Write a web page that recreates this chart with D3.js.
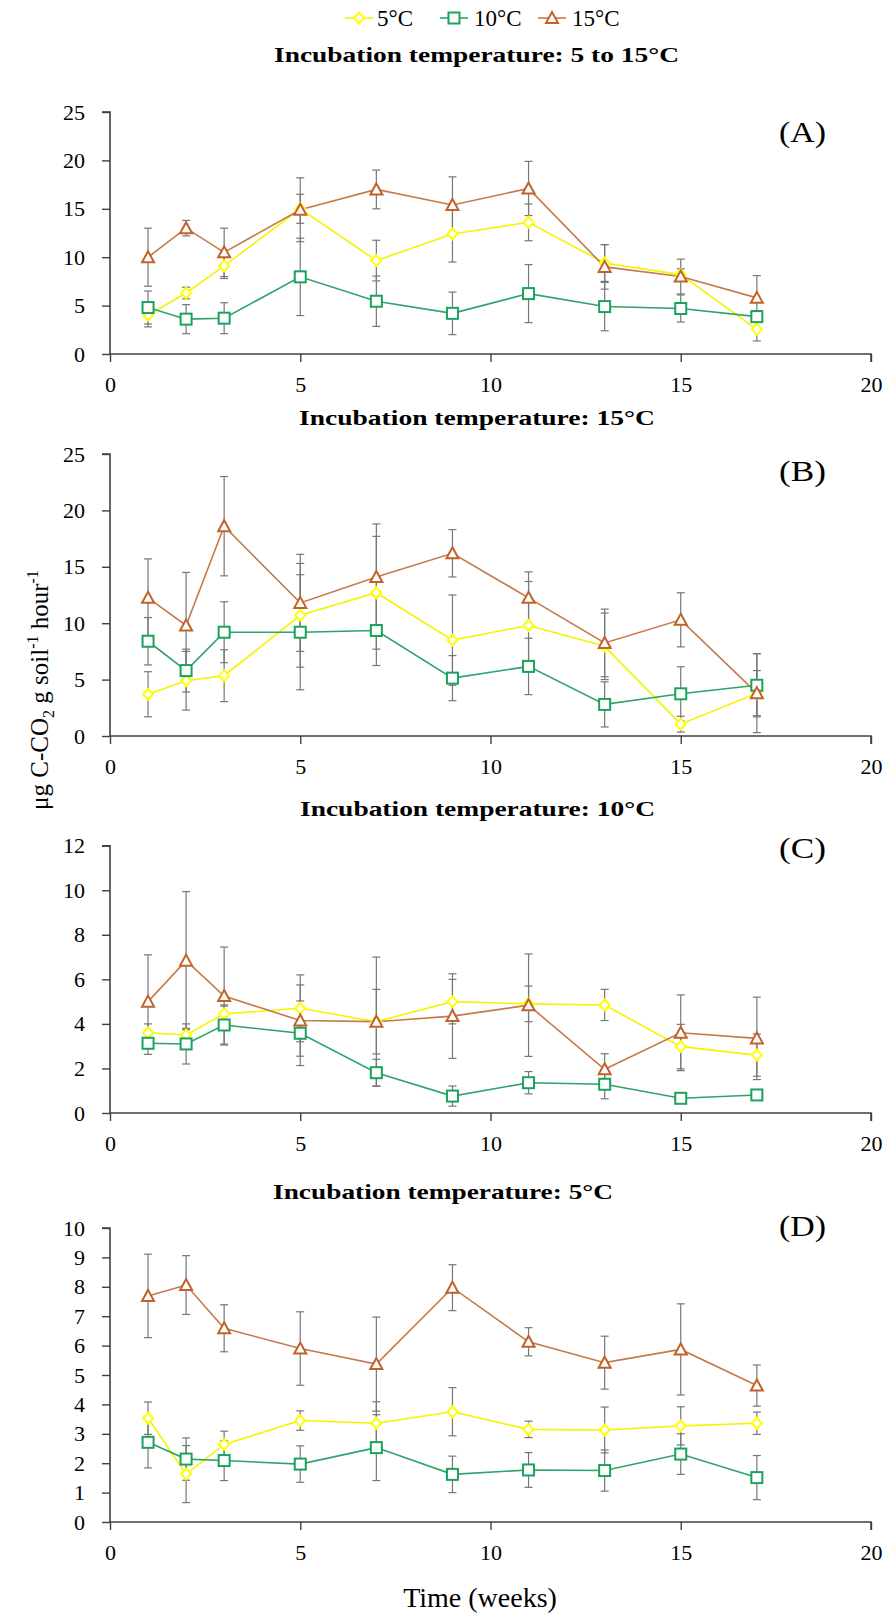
<!DOCTYPE html>
<html><head><meta charset="utf-8">
<script src="https://cdn.jsdelivr.net/npm/d3@7"></script>
<style>body{margin:0;background:#fff}svg{display:block}text{font-family:"Liberation Serif","Times New Roman",serif;fill:#000}</style>
</head><body>
<script>
const weeks = [1, 2, 3, 5, 7, 9, 11, 13, 15, 17];
const seriesNames = ["5°C", "10°C", "15°C"];
const panelTitles = ["Incubation temperature: 5 to 15°C", "Incubation temperature: 15°C", "Incubation temperature: 10°C", "Incubation temperature: 5°C"];
const panelLabels = ["(A)", "(B)", "(C)", "(D)"];
const yMaxes = [25, 25, 12, 10];
const yTickSteps = [5, 5, 2, 1];
const xTicks = [0, 5, 10, 15, 20];

// Panel A
const A_5 = [4.0, 6.3, 9.1, 15.0, 9.65, 12.4, 13.6, 9.4, 8.2, 2.55];
const A_5err = [1.2, 0.6, 1.3, 1.5, 2.1, 2.9, 1.9, 1.9, 0.6, 1.2];
const A_10 = [4.8, 3.6, 3.7, 7.97, 5.45, 4.2, 6.24, 4.9, 4.7, 3.86];
const A_10err = [1.7, 1.5, 1.6, 4.0, 2.6, 2.2, 3.0, 2.5, 1.4, 0.6];
const A_15 = [10.0, 13.0, 10.5, 14.9, 17.0, 15.4, 17.1, 9.0, 8.0, 5.8];
const A_15err = [3.0, 0.8, 2.5, 3.3, 2.0, 2.9, 2.8, 2.3, 1.8, 2.3];
// Panel B
const B_5 = [3.7, 4.9, 5.35, 10.7, 12.7, 8.5, 9.8, 7.95, 1.05, 3.8];
const B_5err = [2.0, 2.6, 2.3, 4.6, 5.0, 4.0, 3.9, 2.95, 0.7, 2.0];
const B_10 = [8.4, 5.8, 9.2, 9.2, 9.35, 5.13, 6.17, 2.8, 3.74, 4.5];
const B_10err = [2.1, 1.9, 2.7, 5.1, 3.1, 2.0, 2.5, 2.0, 2.4, 2.8];
const B_15 = [12.25, 9.8, 18.6, 11.8, 14.1, 16.2, 12.25, 8.25, 10.3, 3.8];
const B_15err = [3.45, 4.7, 4.4, 4.3, 4.7, 2.1, 2.3, 3.0, 2.4, 3.5];
// Panel C
const C_5 = [3.6, 3.5, 4.45, 4.7, 4.1, 5.0, 4.9, 4.85, 2.98, 2.6];
const C_5err = [0.4, 0.3, 0.4, 1.5, 1.45, 1.0, 0.8, 0.7, 1.0, 0.95];
const C_10 = [3.13, 3.1, 3.95, 3.58, 1.81, 0.76, 1.36, 1.29, 0.66, 0.81];
const C_10err = [0.5, 0.9, 0.85, 1.45, 0.6, 0.45, 0.5, 0.65, 0.1, 0.1];
const C_15 = [5.0, 6.84, 5.25, 4.15, 4.1, 4.35, 4.84, 1.96, 3.6, 3.35];
const C_15err = [2.1, 3.1, 2.2, 1.6, 2.9, 1.9, 2.3, 0.7, 1.7, 1.85];
// Panel D
const D_5 = [3.53, 1.63, 2.64, 3.45, 3.36, 3.75, 3.15, 3.13, 3.27, 3.36];
const D_5err = [0.55, 0.97, 0.45, 0.33, 0.73, 0.82, 0.28, 0.78, 0.65, 0.38];
const D_10 = [2.71, 2.14, 2.09, 1.97, 2.53, 1.62, 1.77, 1.75, 2.31, 1.51];
const D_10err = [0.87, 0.72, 0.68, 0.62, 1.12, 0.62, 0.59, 0.7, 0.69, 0.75];
const D_15 = [7.69, 8.06, 6.59, 5.9, 5.37, 7.97, 6.13, 5.42, 5.87, 4.64];
const D_15err = [1.42, 1.0, 0.8, 1.25, 1.6, 0.78, 0.48, 0.9, 1.55, 0.7];

const panels = [
  [[A_5, A_5err], [A_10, A_10err], [A_15, A_15err]],
  [[B_5, B_5err], [B_10, B_10err], [B_15, B_15err]],
  [[C_5, C_5err], [C_10, C_10err], [C_15, C_15err]],
  [[D_5, D_5err], [D_10, D_10err], [D_15, D_15err]]
];

// ---- layout / style ----
const W = 887, H = 1618;
const colors = ["#ffff00", "#1aa35c", "#c0622b"];
const lineColors = ["#f4f400", "#2ea36a", "#c47a4a"];
const shapes = ["diamond", "square", "triangle"];
const panelBox = [[112, 354], [454, 736], [845.7, 1113], [1228, 1522]];
const titleX = [274, 299, 300, 273];
const titleW = [405, 356, 355, 340];
const titleY = [62, 425, 816, 1199];
const labelY = [142, 481, 858, 1236];

const svg = d3.select("body").append("svg").attr("width", W).attr("height", H);
const x = d3.scaleLinear().domain([0, 20]).range([110, 871]);

function marker(g, shape, cx, cy, col) {
  if (shape === "diamond") {
    g.append("path").attr("d", `M${cx},${cy-5.5}L${cx+5},${cy}L${cx},${cy+5.5}L${cx-5},${cy}Z`)
      .attr("fill", "#fff").attr("stroke", col).attr("stroke-width", 2);
  } else if (shape === "square") {
    g.append("rect").attr("x", cx-5.5).attr("y", cy-5.5).attr("width", 11).attr("height", 11)
      .attr("fill", "#fff").attr("stroke", col).attr("stroke-width", 2);
  } else {
    g.append("path").attr("d", `M${cx},${cy-6}L${cx+6},${cy+5}L${cx-6},${cy+5}Z`)
      .attr("fill", "#fff").attr("stroke", col).attr("stroke-width", 2);
  }
}

panels.forEach((series, p) => {
  const [top, bot] = panelBox[p];
  const y = d3.scaleLinear().domain([0, yMaxes[p]]).range([bot, top]);
  const g = svg.append("g");
  const yTicks = d3.range(0, yMaxes[p] + 0.001, yTickSteps[p]);

  // axes
  const ya = g.append("g").attr("transform", "translate(110,0)")
    .call(d3.axisLeft(y).tickValues(yTicks).tickSize(8).tickPadding(17).tickFormat(d3.format("d")));
  const xa = g.append("g").attr("transform", `translate(0,${bot})`)
    .call(d3.axisBottom(x).tickValues(xTicks).tickSize(8).tickPadding(14).tickFormat(d3.format("d")));
  [ya, xa].forEach(a => {
    a.select(".domain").attr("stroke", "#404040").attr("stroke-width", 1.6);
    a.selectAll(".tick line").attr("stroke", "#404040").attr("stroke-width", 1.4);
    a.selectAll(".tick text").attr("font-size", 22).attr("fill", "#000")
      .style("font-family", '"Liberation Serif", serif');
  });
  ya.select(".domain").attr("d", `M-8,${top}H0V${bot}`);
  xa.select(".domain").attr("d", `M110,0H871V8`);

  // title
  g.append("text").attr("x", titleX[p]).attr("y", titleY[p]).attr("font-size", 21).attr("font-weight", "bold")
    .attr("textLength", titleW[p]).attr("lengthAdjust", "spacingAndGlyphs").text(panelTitles[p]);
  g.append("text").attr("x", 779).attr("y", labelY[p])
    .attr("font-size", 30).attr("textLength", 47).attr("lengthAdjust", "spacingAndGlyphs").text(panelLabels[p]);

  // error bars
  series.forEach(([vals, errs]) => {
    vals.forEach((v, i) => {
      const cx = x(weeks[i]);
      const y1 = y(v + errs[i]), y2 = y(Math.max(0, v - errs[i]));
      g.append("line").attr("x1", cx).attr("x2", cx).attr("y1", y1).attr("y2", y2)
        .attr("stroke", "#777").attr("stroke-width", 1.2);
      [y1, y2].forEach(yy => g.append("line").attr("x1", cx-4).attr("x2", cx+4).attr("y1", yy).attr("y2", yy)
        .attr("stroke", "#777").attr("stroke-width", 1.2));
    });
  });
  // lines + markers
  series.forEach(([vals], s) => {
    const line = d3.line().x((d, i) => x(weeks[i])).y(d => y(d));
    g.append("path").datum(vals).attr("d", line).attr("fill", "none")
      .attr("stroke", lineColors[s]).attr("stroke-width", 1.6);
  });
  series.forEach(([vals], s) => {
    vals.forEach((v, i) => marker(g, shapes[s], x(weeks[i]), y(v), colors[s]));
  });
});

// legend
const legX = [359, 454, 552];
const legTextX = [377, 474, 572];
seriesNames.forEach((n, s) => {
  const lg = svg.append("g");
  lg.append("line").attr("x1", legX[s]-14).attr("x2", legX[s]+14).attr("y1", 18).attr("y2", 18)
    .attr("stroke", lineColors[s]).attr("stroke-width", 1.6);
  marker(lg, shapes[s], legX[s], 18, colors[s]);
  lg.append("text").attr("x", legTextX[s]).attr("y", 26).attr("font-size", 23).text(n);
});

// y axis title
const yt = svg.append("text").attr("transform", "translate(48,690) rotate(-90)")
  .attr("text-anchor", "middle").attr("font-size", 25);
yt.append("tspan").text("μg C-CO");
yt.append("tspan").attr("font-size", 16).attr("dy", 6).text("2");
yt.append("tspan").attr("dy", -6).text(" g soil");
yt.append("tspan").attr("font-size", 16).attr("dy", -10).text("-1");
yt.append("tspan").attr("dy", 10).text(" hour");
yt.append("tspan").attr("font-size", 16).attr("dy", -10).text("-1");

// x axis title
svg.append("text").attr("x", 480).attr("y", 1607).attr("text-anchor", "middle")
  .attr("font-size", 28).text("Time (weeks)");
</script>
</body></html>
